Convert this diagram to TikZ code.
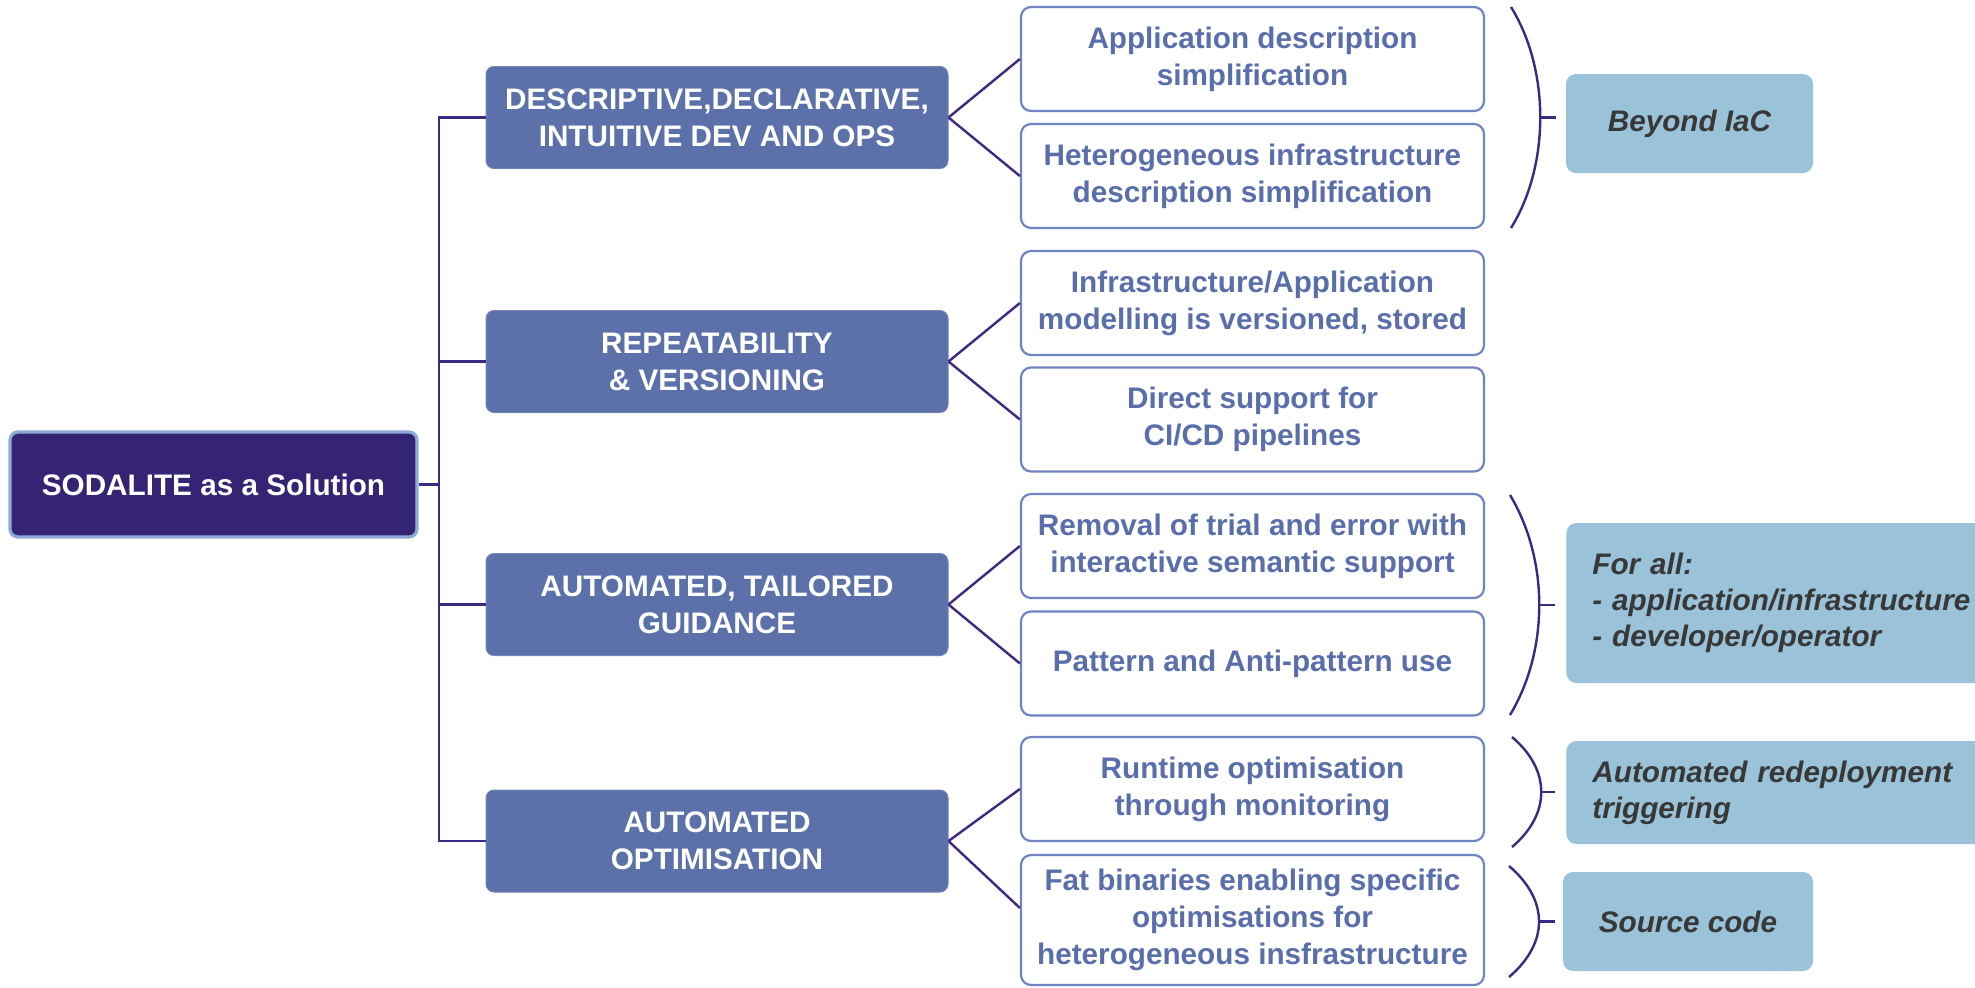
\documentclass[tikz,border=0pt]{standalone}
\usepackage{fontspec}
\setmainfont{Liberation Sans}
\definecolor{rootc}{RGB}{53,36,115}
\definecolor{rootb}{RGB}{140,172,215}
\definecolor{catc}{RGB}{92,112,170}
\definecolor{leafb}{RGB}{112,132,196}
\definecolor{leaft}{RGB}{90,110,172}
\definecolor{linec}{RGB}{60,42,130}
\definecolor{notec}{RGB}{154,195,218}
\definecolor{notet}{RGB}{56,56,56}
\begin{document}
\begin{tikzpicture}[x=0.5pt,y=-0.5pt,
  base/.style={font=\bfseries\fontsize{14.85}{18.5}\selectfont, align=center, inner sep=0pt},
  rootbox/.style={base, fill=rootc, draw=rootb, line width=1.6pt, rounded corners=4pt, text=white,
    minimum width=203.5pt, minimum height=52.5pt},
  catbox/.style={base, fill=catc, draw=catc!85!white, line width=0.5pt, rounded corners=4pt, text=white,
    minimum width=231pt, minimum height=51pt},
  leafbox/.style={base, fill=white, draw=leafb, line width=1.1pt, rounded corners=5pt, text=leaft,
    minimum width=231.5pt, minimum height=52pt},
  notebox/.style={base, font=\bfseries\itshape\fontsize{14.85}{18}\selectfont, fill=notec, rounded corners=5pt, text=notet},
  conn/.style={draw=linec, line width=1.2pt},
  paren/.style={draw=linec, line width=1.2pt}
]
\clip (0,0) rectangle (1975,987);
\fill[white] (0,0) rectangle (1975,987);

% root
\node[rootbox] (root) at (213.5,484.5) {SODALITE as a Solution};

% categories
\node[catbox] (c1) at (717,117.5) {DESCRIPTIVE,DECLARATIVE,\\INTUITIVE DEV AND OPS};
\node[catbox] (c2) at (717,361.5) {REPEATABILITY\\\& VERSIONING};
\node[catbox] (c3) at (717,604.5) {AUTOMATED, TAILORED\\GUIDANCE};
\node[catbox] (c4) at (717,841) {AUTOMATED\\OPTIMISATION};

% leaves
\node[leafbox] (l1) at (1252.5,59) {Application description\\simplification};
\node[leafbox] (l2) at (1252.5,176) {Heterogeneous infrastructure\\description simplification};
\node[leafbox] (l3) at (1252.5,303) {Infrastructure/Application\\modelling is versioned, stored};
\node[leafbox] (l4) at (1252.5,419.5) {Direct support for\\CI/CD pipelines};
\node[leafbox] (l5) at (1252.5,546) {Removal of trial and error with\\interactive semantic support};
\node[leafbox] (l6) at (1252.5,663.5) {Pattern and Anti-pattern use};
\node[leafbox] (l7) at (1252.5,789) {Runtime optimisation\\through monitoring};
\node[leafbox, minimum height=65pt] (l8) at (1252.5,920) {Fat binaries enabling specific\\optimisations for\\heterogeneous insfrastructure};

% notes
\node[notebox, minimum width=123.5pt, minimum height=49.5pt] (n1) at (1689.5,123.5) {Beyond IaC};
\node[notebox, anchor=west, align=left, text width=200pt, inner xsep=13pt, minimum height=80pt] (n2) at (1566,603)
  {For all:\\- application/infrastructure\\- developer/operator};
\node[notebox, anchor=west, align=left, text width=200pt, inner xsep=13pt, minimum height=51.5pt] (n3) at (1566,792.5)
  {Automated redeployment\\triggering};
\node[notebox, minimum width=125pt, minimum height=49.5pt] (n4) at (1688,921.5) {Source code};

% trunk
\coordinate (tr) at (439,484.5);
\draw[conn] (root.east) -- (tr);
\draw[conn] (c1.west) -| (tr);
\draw[conn] (c2.west) -| (tr);
\draw[conn] (c3.west) -| (tr);
\draw[conn] (c4.west) -| (tr);

% category to leaves
\draw[conn] (c1.east) -- (l1.west);
\draw[conn] (c1.east) -- (l2.west);
\draw[conn] (c2.east) -- (l3.west);
\draw[conn] (c2.east) -- (l4.west);
\draw[conn] (c3.east) -- (l5.west);
\draw[conn] (c3.east) -- (l6.west);
\draw[conn] (c4.east) -- (l7.west);
\draw[conn] (c4.east) -- ([yshift=6pt]l8.west);

% parentheses
\draw[paren] (1511,7) .. controls (1550,70) and (1550,165) .. (1511,228);
\draw[paren] (1540,117.5) -- (1556,117.5);
\draw[paren] (1510,495) .. controls (1549,560) and (1549,650) .. (1510,715);
\draw[paren] (1539,605) -- (1555,605);
\draw[paren] (1512,737) .. controls (1551,770) and (1551,814) .. (1512,847);
\draw[paren] (1541,792) -- (1555,792);
\draw[paren] (1509,866) .. controls (1549,900) and (1549,943) .. (1509,977);
\draw[paren] (1539,921.5) -- (1555,921.5);
\end{tikzpicture}
\end{document}
